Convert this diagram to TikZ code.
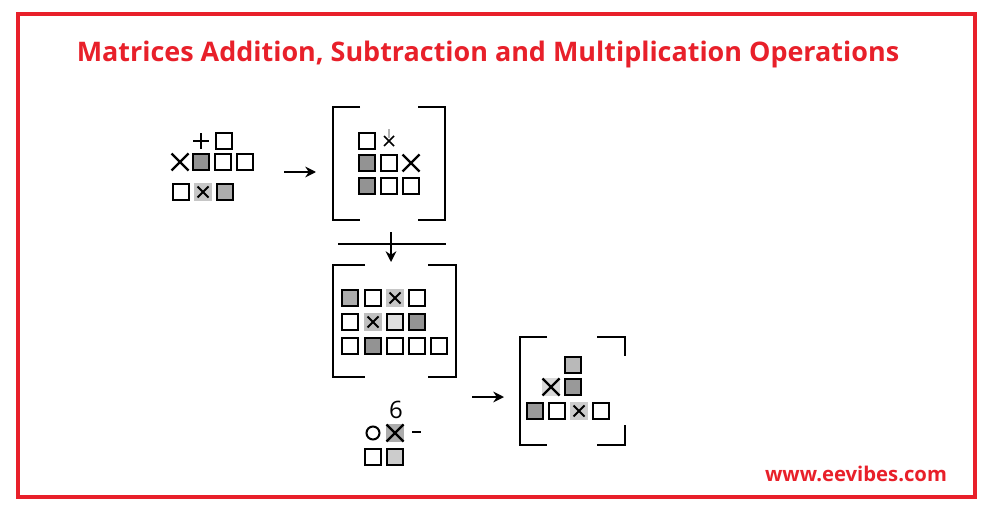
\documentclass[tikz,border=0pt]{standalone}
\usepackage{fontspec}
\setmainfont{Open Sans}
\definecolor{red1}{HTML}{E8202A}
\usetikzlibrary{arrows.meta}
\tikzset{
  sq/.style={draw=black,line width=1.5pt},
  bracket/.style={draw=black,line width=1.7pt},
  xl/.style={line width=1.7pt},
  arr/.style={-{Stealth[length=8pt,width=8pt]},line width=1.6pt}
}
\newcommand{\sqr}[3]{\draw[sq,fill=#3] (#1-8,#2-8) rectangle (#1+8,#2+8);}
\newcommand{\sqx}[3]{\fill[#3] (#1-9,#2-9) rectangle (#1+9,#2+9);\draw[line width=1.4pt] (#1-5.5,#2-5.5)--(#1+5.5,#2+5.5) (#1-5.5,#2+5.5)--(#1+5.5,#2-5.5);}
\newcommand{\bigx}[2]{\draw[xl] (#1-8.5,#2-8.5)--(#1+8.5,#2+8.5) (#1-8.5,#2+8.5)--(#1+8.5,#2-8.5);}
\begin{document}
\begin{tikzpicture}[x=0.75pt,y=-0.75pt]
\useasboundingbox (0,0) rectangle (992,510);
\fill[white] (0,0) rectangle (992,510);
\draw[red1,line width=2.6pt] (18,14) rectangle (975,497);
\node[font=\bfseries\fontsize{20.2}{22}\selectfont,text=red1] (title) at (488,55) {Matrices Addition, Subtraction and Multiplication Operations};
\node[font=\bfseries\fontsize{15.2}{16}\selectfont,text=red1] (web) at (856,474) {www.eevibes.com};
% group 1
\draw[xl] (193,141)--(209,141) (201,133)--(201,149);
\sqr{224}{141}{white}
\bigx{180}{162}
\sqr{201}{162}{gray!85}\sqr{223}{162}{white}\sqr{245}{162}{white}
\sqr{181}{192}{white}\sqx{203}{192}{gray!45}\sqr{225}{192}{gray!65}
\draw[arr] (284,172)--(316,172);
% bracket 1
\draw[bracket] (360,107)--(333,107)--(333,220)--(360,220);
\draw[bracket] (418,107)--(445,107)--(445,220)--(418,220);
\sqr{367}{141}{white}
\draw[line width=1.3pt] (384,136)--(394,146) (384,146)--(394,136);
\draw[gray!60,line width=1pt] (389,129)--(389,138);
\sqr{367}{163}{gray!85}\sqr{389}{163}{white}\bigx{411}{163}
\sqr{367}{186}{gray!85}\sqr{389}{186}{white}\sqr{411}{186}{white}
\draw[line width=1.5pt] (338,244)--(446,244);
\draw[arr] (391,232)--(391,262);
% bracket 2
\draw[bracket] (365,265)--(333,265)--(333,377)--(365,377);
\draw[bracket] (428,265)--(456,265)--(456,377)--(428,377);
\sqr{350}{298}{gray!65}\sqr{373}{298}{white}\sqx{395}{298}{gray!45}\sqr{417}{298}{white}
\sqr{350}{322}{white}\sqx{373}{322}{gray!50}\sqr{395}{322}{gray!25}\sqr{417}{322}{gray!85}
\sqr{350}{346}{white}\sqr{373}{346}{gray!85}\sqr{395}{346}{white}\sqr{417}{346}{white}\sqr{439}{346}{white}
% group 4
\node[font=\fontsize{18}{18}\selectfont] (six) at (396,410) {6};
\draw[line width=1.5pt] (373,433) circle (6.5);
\fill[gray!65] (386,424) rectangle (404,442);
\bigx{395}{433}
\draw[line width=1.5pt] (412,432)--(421,432);
\sqr{373}{457}{white}\sqr{395}{457}{gray!40}
\draw[arr] (472,397)--(504,397);
% bracket 3
\draw[bracket] (547,337)--(520,337)--(520,445)--(547,445);
\draw[bracket] (597,337)--(625,337)--(625,356);
\draw[bracket] (625,425)--(625,445)--(597,445);
\sqr{573}{365}{gray!55}
\fill[gray!30] (542,378) rectangle (560,396); \bigx{551}{387}
\sqr{573}{387}{gray!80}
\sqr{535}{411}{gray!80}\sqr{557}{411}{white}\sqx{579}{411}{gray!40}\sqr{601}{411}{white}
\end{tikzpicture}
\end{document}
